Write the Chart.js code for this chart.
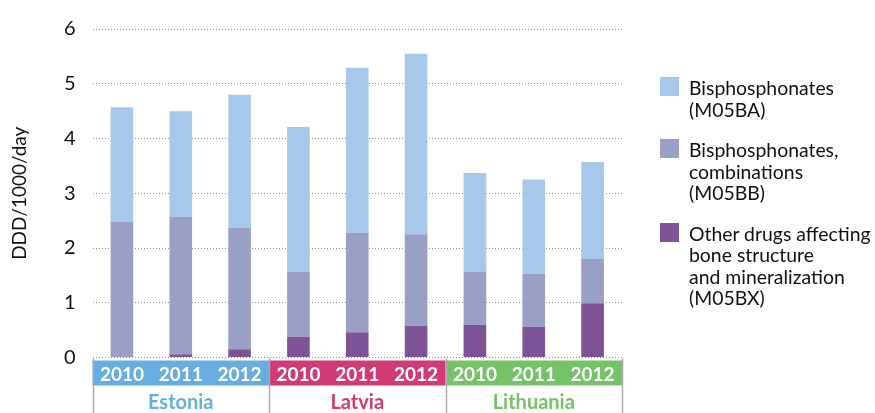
<!DOCTYPE html>
<html>
<head>
<meta charset="utf-8">
<script src="https://cdn.jsdelivr.net/npm/chart.js@4"></script>
<style>
  body { margin: 0; background: #fff; }
  #wrap { position: relative; width: 875px; height: 413px; }
  #legend { position: absolute; left: 660px; top: 77px; font-family: Lato, sans-serif; font-size: 19.4px; color: #111; white-space: nowrap; }
  .item { position: relative; padding-left: 29px; line-height: 21.5px; }
  .item .box { position: absolute; left: 0; top: 0; width: 19px; height: 19px; }
</style>
</head>
<body>
<div id="wrap">
  <canvas id="chart" width="875" height="413"></canvas>
  <div id="legend"></div>
</div>
<script>
// Données
const years = ['2010', '2011', '2012', '2010', '2011', '2012', '2010', '2011', '2012'];
const countries = ['Estonia', 'Latvia', 'Lithuania'];
const countryColors = ['#67ade0', '#d03a75', '#76c268'];

const otherDrugs = [0, 0.06, 0.15, 0.38, 0.46, 0.58, 0.60, 0.56, 0.99];      // M05BX
const combinations = [2.48, 2.51, 2.22, 1.19, 1.82, 1.67, 0.97, 0.97, 0.81]; // M05BB
const bisphosph = [2.09, 1.93, 2.43, 2.64, 3.01, 3.30, 1.80, 1.72, 1.77];    // M05BA

const yTicks = [0, 1, 2, 3, 4, 5, 6];

const series = [
    { label: ['Other drugs affecting', 'bone structure', 'and mineralization', '(M05BX)'], data: otherDrugs, color: '#7f5397' },
    { label: ['Bisphosphonates,', 'combinations', '(M05BB)'], data: combinations, color: '#9a9fc5' },
    { label: ['Bisphosphonates', '(M05BA)'], data: bisphosph, color: '#a6c9eb' }
];

// Bandeaux colorés, séparateurs et noms de pays sous l'axe
const groupsPlugin = {
    id: 'groups',
    beforeDraw(chart) {
        const ctx = chart.ctx;
        const x = chart.scales.x;
        const area = chart.chartArea;
        const step = (area.right - area.left) / years.length;
        ctx.save();
        countries.forEach((c, g) => {
            const x0 = x.getPixelForValue(g * 3) - step / 2;
            const x1 = x.getPixelForValue(g * 3 + 2) + step / 2;
            ctx.fillStyle = countryColors[g];
            ctx.fillRect(x0, area.bottom + 3, x1 - x0, 25);
        });
        ctx.restore();
    },
    afterDraw(chart) {
        const ctx = chart.ctx;
        const x = chart.scales.x;
        const area = chart.chartArea;
        const step = (area.right - area.left) / years.length;
        ctx.save();
        ctx.strokeStyle = '#aaaaaa';
        ctx.lineWidth = 1.5;
        for (let g = 0; g <= countries.length; g++) {
            const px = Math.round(area.left + g * 3 * step) + 0.5;
            ctx.beginPath();
            ctx.moveTo(px, area.bottom + 1);
            ctx.lineTo(px, chart.height);
            ctx.stroke();
        }
        ctx.font = 'bold 20px Lato, sans-serif';
        ctx.textAlign = 'center';
        ctx.textBaseline = 'alphabetic';
        countries.forEach((c, g) => {
            ctx.fillStyle = countryColors[g];
            ctx.fillText(c, x.getPixelForValue(g * 3 + 1), 409);
        });
        ctx.restore();
    }
};

const chart = new Chart(document.getElementById('chart').getContext('2d'), {
    type: 'bar',
    data: {
        labels: years,
        datasets: series.map(s => ({
            label: s.label.join(' '),
            data: s.data,
            backgroundColor: s.color,
            borderWidth: 0,
            barPercentage: 0.77,
            categoryPercentage: 0.5
        }))
    },
    options: {
        responsive: false,
        animation: false,
        layout: { padding: { left: 0, right: 253, top: 22, bottom: 0 } },
        plugins: {
            legend: { display: false },
            tooltip: { enabled: false }
        },
        scales: {
            x: {
                stacked: true,
                grid: { display: false, drawTicks: false },
                border: { display: false },
                ticks: {
                    color: '#ffffff',
                    font: { family: 'Lato', size: 19, weight: 'bold' },
                    padding: 6,
                    maxRotation: 0
                },
                afterFit(scale) { scale.height = 55.5; }
            },
            y: {
                stacked: true,
                min: 0,
                max: 6,
                afterBuildTicks(scale) { scale.ticks = yTicks.map(v => ({ value: v })); },
                grid: { color: '#8c8c8c', lineWidth: 1, drawTicks: false },
                border: { display: false, dash: [1, 2] },
                ticks: {
                    color: '#111111',
                    font: { family: 'Lato', size: 20 },
                    padding: 17
                },
                title: {
                    display: true,
                    text: 'DDD/1000/day',
                    color: '#111111',
                    font: { family: 'Lato', size: 19 },
                    padding: { top: 8, bottom: 0 }
                },
                afterFit(scale) { scale.width = 92.5; }
            }
        }
    },
    plugins: [groupsPlugin]
});

// Légende HTML (ordre inversé : du haut vers le bas)
const legend = document.getElementById('legend');
const gaps = [0, 19, 19];
series.slice().reverse().forEach((s, i) => {
    const div = document.createElement('div');
    div.className = 'item';
    div.style.marginTop = gaps[i] + 'px';
    div.innerHTML = '<span class="box" style="background:' + s.color + '"></span>' + s.label.join('<br>');
    legend.appendChild(div);
});
</script>
</body>
</html>
